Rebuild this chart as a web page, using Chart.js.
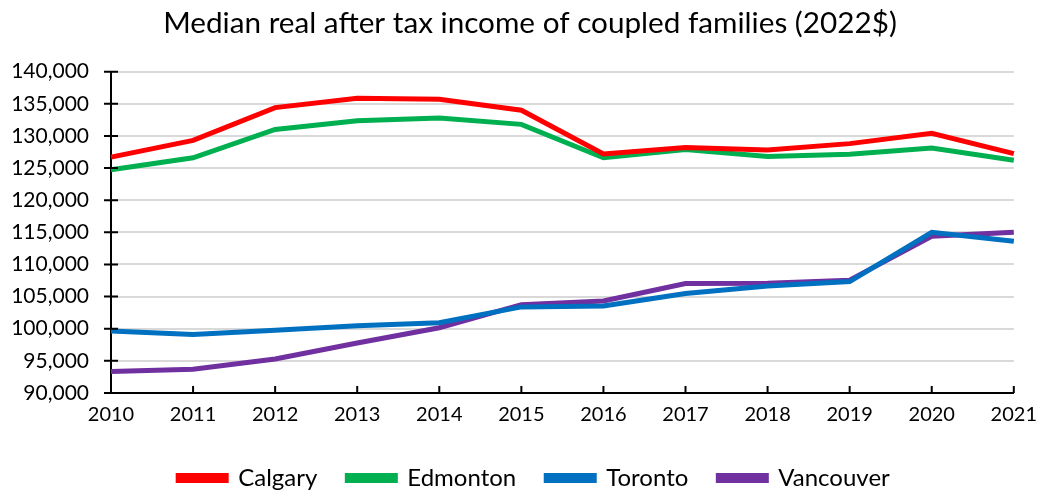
<!DOCTYPE html>
<html>
<head>
<meta charset="utf-8">
<script src="https://cdn.jsdelivr.net/npm/chart.js@4.4.1/dist/chart.umd.min.js"></script>
<style>
  html, body { margin: 0; padding: 0; background: #fff; }
  #wrap { width: 1039px; height: 493px; }
</style>
</head>
<body>
<div id="wrap"><canvas id="incomeChart"></canvas></div>
<script>
const years = ['2010', '2011', '2012', '2013', '2014', '2015', '2016', '2017', '2018', '2019', '2020', '2021'];
const calgary = [126700, 129300, 134400, 135850, 135700, 134000, 127200, 128200, 127800, 128800, 130400, 127250];
const edmonton = [124750, 126600, 131000, 132350, 132800, 131800, 126600, 127900, 126800, 127150, 128100, 126200];
const toronto = [99650, 99100, 99750, 100470, 100940, 103400, 103550, 105470, 106630, 107340, 115000, 113600];
const vancouver = [93350, 93700, 95300, 97770, 100160, 103750, 104330, 107030, 107080, 107560, 114375, 115000];
const yTicks = [90000, 95000, 100000, 105000, 110000, 115000, 120000, 125000, 130000, 135000, 140000];

const FONT = 'Lato, "Open Sans", sans-serif';

const line = (label, data, color) => ({
  label,
  data,
  borderColor: color,
  backgroundColor: color,
  borderWidth: 5,
  pointRadius: 0,
  tension: 0
});

// black tick marks like the spreadsheet: crossing on y, inward on x
const axisTicks = {
  id: 'axisTicks',
  afterLayout(chart) {
    // title and legend in the reference sit a bit right of the canvas centre
    chart.titleBlock.left = 46;
    chart.legend.left += 50;
    chart.legend.right += 4;
  },
  afterDatasetsDraw(chart) {
    const { ctx, scales: { x, y } } = chart;
    ctx.save();
    ctx.strokeStyle = '#000';
    ctx.lineWidth = 2;
    ctx.beginPath();
    yTicks.forEach(v => {
      const py = y.getPixelForValue(v);
      ctx.moveTo(x.left - 7, py);
      ctx.lineTo(x.left + 7, py);
    });
    years.forEach((_, i) => {
      const px = x.getPixelForTick(i);
      ctx.moveTo(px, y.bottom);
      ctx.lineTo(px, y.bottom - 7);
    });
    ctx.stroke();
    ctx.restore();
  }
};

new Chart(document.getElementById('incomeChart').getContext('2d'), {
  type: 'line',
  data: {
    labels: years,
    datasets: [
      line('Calgary', calgary, '#FF0000'),
      line('Edmonton', edmonton, '#00B050'),
      line('Toronto', toronto, '#0070C0'),
      line('Vancouver', vancouver, '#7030A0')
    ]
  },
  options: {
    responsive: true,
    maintainAspectRatio: false,
    animation: false,
    layout: { padding: { left: 0, right: 25, top: 4, bottom: -7 } },
    plugins: {
      title: {
        display: true,
        text: 'Median real after tax income of coupled families (2022$)',
        color: '#000',
        font: { family: FONT, size: 29.7, weight: 'normal' },
        padding: { top: 2, bottom: 30 }
      },
      legend: {
        position: 'bottom',
        labels: {
          color: '#000',
          font: { family: FONT, size: 24 },
          boxWidth: 48,
          boxHeight: 5,
          padding: 30
        }
      },
      tooltip: { enabled: false }
    },
    scales: {
      x: {
        grid: { display: false },
        border: { color: '#000', width: 2 },
        afterFit: (scale) => { scale.height += 7; },
        ticks: { color: '#000', font: { family: FONT, size: 20 }, padding: 2, maxRotation: 0 },
        offset: false
      },
      y: {
        min: 90000,
        max: 140000,
        afterFit: (scale) => { scale.width = 111; },
        afterBuildTicks: (scale) => { scale.ticks = yTicks.map(v => ({ value: v })); },
        grid: { color: '#D9D9D9', lineWidth: 2, drawTicks: false },
        border: { color: '#000', width: 2 },
        ticks: {
          color: '#000',
          font: { family: FONT, size: 21 },
          padding: 22,
          callback: (v) => v.toLocaleString('en-US')
        }
      }
    }
  },
  plugins: [axisTicks]
});
</script>
</body>
</html>
